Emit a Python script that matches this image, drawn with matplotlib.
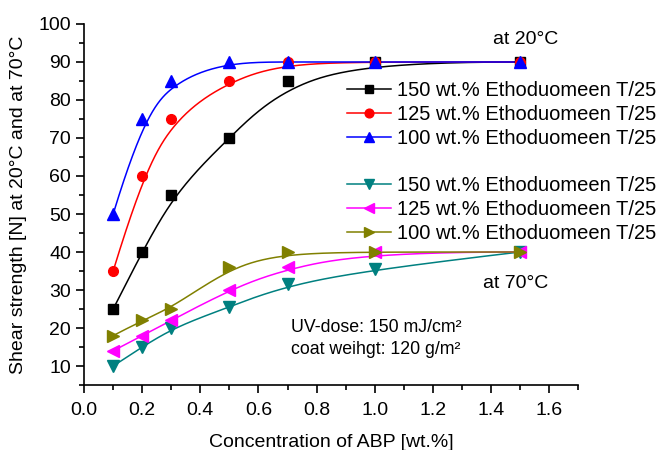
import matplotlib
matplotlib.use('Agg')
import matplotlib.pyplot as plt
from matplotlib.lines import Line2D
from matplotlib.ticker import MultipleLocator
import numpy as np

plt.rcParams['font.family'] = ['Liberation Sans', 'DejaVu Sans']

# 数据
conc = [0.1, 0.2, 0.3, 0.5, 0.7, 1.0, 1.5]
s20_150 = [25, 40, 55, 70, 85, 90, 90]
s20_125 = [35, 60, 75, 85, 90, 90, 90]
s20_100 = [50, 75, 85, 90, 90, 90, 90]
s70_150 = [10, 15, 20, 25.5, 31.5, 35.5, 40]
s70_125 = [14, 18, 22, 30, 36, 40, 40]
s70_100 = [18, 22, 25, 36, 40, 40, 40]
labels = ['150 wt.% Ethoduomeen T/25', '125 wt.% Ethoduomeen T/25', '100 wt.% Ethoduomeen T/25']


# B样条连线（数据点作控制点，首末点通过）
def bspline(px, py, num=400, k=3):
    px = np.asarray(px, float)
    py = np.asarray(py, float)
    n = len(px)
    inner = np.arange(1, n - k)
    knots = np.concatenate([np.zeros(k + 1), inner, np.full(k + 1, n - k)]).astype(float)
    t = np.linspace(0, n - k, num)
    t[-1] -= 1e-9
    # Cox-de Boor
    B = np.zeros((num, len(knots) - 1))
    for i in range(len(knots) - 1):
        B[:, i] = (t >= knots[i]) & (t < knots[i + 1])
    for d in range(1, k + 1):
        Bn = np.zeros((num, len(knots) - 1 - d))
        for i in range(len(knots) - 1 - d):
            a = knots[i + d] - knots[i]
            b = knots[i + d + 1] - knots[i + 1]
            term = 0
            if a > 0:
                term = term + (t - knots[i]) / a * B[:, i]
            if b > 0:
                term = term + (knots[i + d + 1] - t) / b * B[:, i + 1]
            Bn[:, i] = term
        B = Bn
    return B @ px, B @ py


fig = plt.figure(figsize=(6.57, 4.5), dpi=100)
ax = fig.add_axes([0.128, 0.1444, 0.752, 0.8023])

series = [
    (s20_150, 'black', 's', 6.5),
    (s20_125, 'red', 'o', 7),
    (s20_100, 'blue', '^', 8),
    (s70_150, '#008080', 'v', 8),
    (s70_125, '#ff00ff', '<', 8),
    (s70_100, '#808000', '>', 8),
]

handles = []
for i, (vals, col, mk, ms) in enumerate(series):
    cx, cy = bspline(conc, vals)
    ax.plot(cx, cy, color=col, lw=1.1, zorder=2 + i)
    ax.plot(conc, vals, linestyle='none', marker=mk, color=col, ms=ms, zorder=10 + i)
    handles.append(Line2D([], [], color=col, marker=mk, ms=ms * 0.9, lw=1.1))

blank = Line2D([], [], linestyle='none')
leg = ax.legend(handles[:3] + [blank] + handles[3:], labels + [' '] + labels,
                loc='upper left', bbox_to_anchor=(347 / 657, 1 - 81 / 450),
                bbox_transform=fig.transFigure, frameon=False, fontsize=14.5,
                handlelength=2.2, handletextpad=0.3, labelspacing=0.24,
                borderpad=0, borderaxespad=0)

ax.set_xlim(0, 1.7)
ax.set_ylim(5, 100)
ax.set_xticks(np.arange(0, 1.61, 0.2))
ax.set_xticklabels(['%.1f' % v for v in np.arange(0, 1.61, 0.2)])
ax.xaxis.set_minor_locator(MultipleLocator(0.1))
ax.set_yticks(np.arange(10, 101, 10))
ax.yaxis.set_minor_locator(MultipleLocator(5))
ax.tick_params(which='major', direction='out', length=6, width=1.2, labelsize=14)
ax.tick_params(axis='x', which='major', pad=6)
ax.tick_params(which='minor', direction='out', length=3.5, width=1.2)
for s in ['top', 'right']:
    ax.spines[s].set_visible(False)
for s in ['left', 'bottom']:
    ax.spines[s].set_linewidth(1.2)

ax.set_xlabel('Concentration of ABP [wt.%]', fontsize=14, labelpad=11)
ax.set_ylabel('Shear strength [N] at 20°C and at 70°C', fontsize=14, labelpad=8)

fig.text(493 / 657, 1 - 40 / 450, 'at 20°C', fontsize=14, va='center')
fig.text(483 / 657, 1 - 283 / 450, 'at 70°C', fontsize=14, va='center')
fig.text(291 / 657, 1 - 327 / 450, 'UV-dose: 150 mJ/cm²', fontsize=12.8, va='center')
fig.text(291 / 657, 1 - 349 / 450, 'coat weihgt: 120 g/m²', fontsize=12.8, va='center')

fig.savefig('out.png', dpi=100)
